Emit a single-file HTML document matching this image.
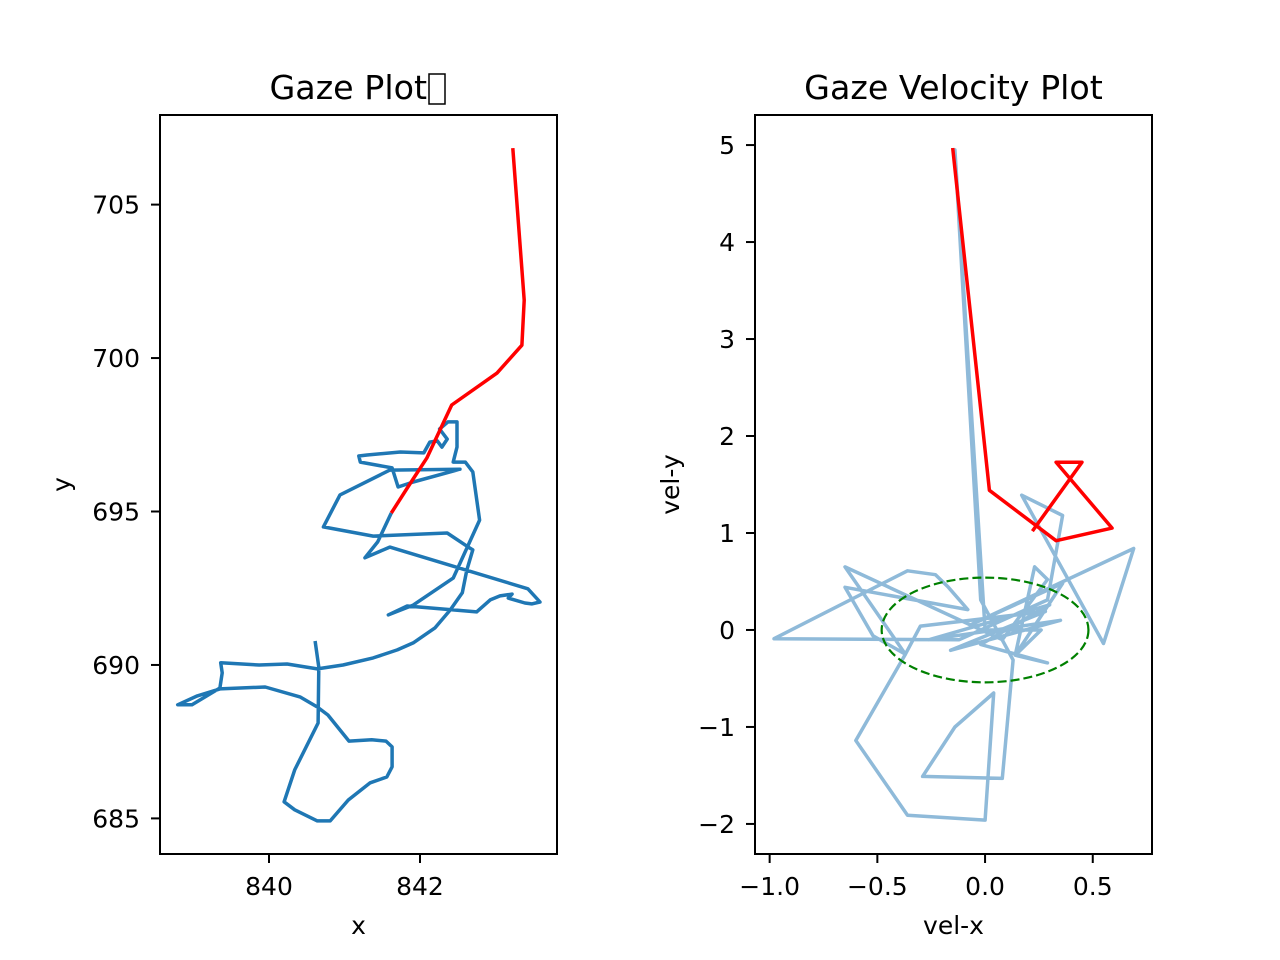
<!DOCTYPE html>
<html><head><meta charset="utf-8"><style>
body{margin:0;background:#fff;}
svg{display:block;font-family:"DejaVu Sans","Liberation Sans",sans-serif;}
</style></head><body>
<svg id="fig" width="1280" height="960" viewBox="0 0 1280 960"></svg>
<script>
// Left chart data (gaze position)
const gazeX = [840.61,840.66,840.65,840.34,840.20,840.34,840.64,840.81,841.05,841.34,841.56,841.63,841.63,841.55,841.36,841.06,840.78,840.64,840.41,839.95,839.35,839.05,838.79,838.98,839.35,839.38,839.36,839.87,840.24,840.64,840.98,841.38,841.70,841.91,842.20,842.40,842.56,842.62,842.70,842.64,842.36,841.38,840.72,840.94,841.60,842.53,841.91,841.71,841.63,841.21,841.19,841.30,841.74,842.05,842.13,842.23,842.29,842.36,842.26,842.37,842.49,842.49,842.44,842.60,842.70,842.79,842.44,841.91,841.58,841.83,842.75,842.93,843.06,843.22,843.17,843.39,843.48,843.59,843.43,841.60,841.27,841.44,841.62];
const gazeY = [690.78,689.93,688.11,686.58,685.54,685.28,684.92,684.92,685.60,686.16,686.35,686.68,687.33,687.52,687.56,687.52,688.37,688.63,688.96,689.28,689.22,688.99,688.70,688.70,689.25,689.74,690.07,690.00,690.03,689.87,690.00,690.23,690.49,690.72,691.21,691.79,692.35,693.09,693.75,693.84,694.30,694.20,694.50,695.54,696.35,696.38,695.96,695.80,696.42,696.61,696.81,696.84,696.94,696.91,697.26,697.30,697.10,697.36,697.69,697.92,697.92,697.10,696.61,696.61,696.29,694.72,692.83,691.95,691.63,691.92,691.73,692.12,692.25,692.31,692.18,692.02,691.99,692.05,692.48,693.84,693.49,694.01,694.95];
const fixX = [841.62,841.84,842.09,842.42,843.02,843.35,843.38,843.23];
const fixY = [694.95,695.80,696.74,698.47,699.51,700.42,701.89,706.84];
const leftXTicks = [840,842];
const leftYTicks = [685,690,695,700,705];
// Right chart data (velocity)
const velX = [0,-0.14,-0.02,0.13,0.08,-0.29,-0.14,0.04,0.00,-0.36,-0.60,-0.37,-0.65,0.08,0.29,0.23,0.14,0.36,-0.07,0.69,0.55,0.17,0.36,0.29,-0.12,-0.98,-0.36,-0.23,-0.17,-0.08,-0.65,-0.52,-0.37,-0.30,0.28,-0.16,0.35,-0.26,0.30,-0.02,0.29,0.14,0.26,0];
const velY = [0,4.95,0.31,-0.31,-1.53,-1.51,-1.00,-0.65,-1.96,-1.91,-1.14,-0.25,0.65,-0.10,0.52,0.65,-0.26,0.48,0.05,0.84,-0.14,1.39,1.18,0.31,-0.10,-0.09,0.61,0.57,0.44,0.21,0.44,-0.06,-0.25,0.04,0.19,-0.21,0.10,-0.10,0.26,-0.15,-0.34,-0.26,0.00,0];
const fixVX = [-0.15,0.02,0.33,0.59,0.33,0.45,0.22];
const fixVY = [4.97,1.44,0.92,1.05,1.73,1.73,1.02];
const ellipseCenter = [0.0, 0.0];
const ellipseRadii = [0.48, 0.54];
const rightXTicks = [-1.0,-0.5,0.0,0.5];
const rightYTicks = [-2,-1,0,1,2,3,4,5];

const NS='http://www.w3.org/2000/svg';
const svg=document.getElementById('fig');
function el(tag,attrs,parent){const e=document.createElementNS(NS,tag);for(const k in attrs)e.setAttribute(k,attrs[k]);(parent||svg).appendChild(e);return e;}
function scale(d0,d1,r0,r1){return v=>r0+(v-d0)/(d1-d0)*(r1-r0);}
function fmt(v,dec){const s=v.toFixed(dec);return v<0?'\u2212'+s.slice(1):s;}
const FS=25, TFS=33.3;

function axes(g,L,T,R,B,sx,sy,xt,yt,xdec,ydec,xlabel,ylabel,ylabelX,name){
  for(const t of xt){const x=sx(t);
    const tk=el('line',{x1:x,x2:x,y1:B,y2:B+9,stroke:'#000','stroke-width':2},g);
    
    const tx=el('text',{x:x,y:B+41,'font-size':FS,'text-anchor':'middle'},g);tx.textContent=fmt(t,xdec);
    }
  for(const t of yt){const y=sy(t);
    const tk=el('line',{x1:L-9,x2:L,y1:y,y2:y,stroke:'#000','stroke-width':2},g);
    
    const tx=el('text',{x:L-20,y:y+9,'font-size':FS,'text-anchor':'end'},g);tx.textContent=fmt(t,ydec);
    }
  const xl=el('text',{x:(L+R)/2,y:B+80,'font-size':FS,'text-anchor':'middle'},g);xl.textContent=xlabel;
  
  const yl=el('text',{x:0,y:0,'font-size':FS,'text-anchor':'middle',transform:`translate(${ylabelX},${(T+B)/2}) rotate(-90)`},g);yl.textContent=ylabel;
  
  return g;
}
function poly(g,xs,ys,sx,sy,color,w,name){
  const pts=xs.map((v,i)=>sx(v).toFixed(1)+','+sy(ys[i]).toFixed(1)).join(' ');
  const p=el('polyline',{points:pts,fill:'none',stroke:color,'stroke-width':w,'stroke-linejoin':'round','stroke-linecap':'butt'},g);
  
}

// Left
{const L=160,T=115,R=557,B=854;
 const g=el('g',{});
 const sx=scale(838.556,843.815,L,R), sy=scale(683.84,707.92,B,T);
 const cp=el('clipPath',{id:'c1'},g);el('rect',{x:L,y:T,width:R-L,height:B-T},cp);
 const pg=el('g',{'clip-path':'url(#c1)'},g);
 poly(pg,gazeX,gazeY,sx,sy,'#1f77b4',3.5,'gaze-path-line');
 poly(pg,fixX,fixY,sx,sy,'#ff0000',3.5,'fixation-path-line');
 const fr=el('rect',{x:L,y:T,width:R-L,height:B-T,fill:'none',stroke:'#000','stroke-width':2},g);
 
 axes(g,L,T,R,B,sx,sy,leftXTicks,leftYTicks,0,0,'x','y',70,'gaze-plot');
 const ti=el('text',{x:427,y:99,'font-size':TFS,'text-anchor':'end'},g);ti.textContent='Gaze Plot';
 
 const box=el('rect',{x:429,y:74,width:16,height:30,fill:'none',stroke:'#000','stroke-width':1.5},g);
 
}
// Right
{const L=755,T=115,R=1152,B=854;
 const g=el('g',{});
 const sx=scale(-1.068,0.775,L,R), sy=scale(-2.31,5.31,B,T);
 const cp=el('clipPath',{id:'c2'},g);el('rect',{x:L,y:T,width:R-L,height:B-T},cp);
 const pg=el('g',{'clip-path':'url(#c2)'},g);
 poly(pg,velX,velY,sx,sy,'#8fbad9',3.5,'velocity-path-line');
 poly(pg,fixVX,fixVY,sx,sy,'#ff0000',3.5,'fixation-velocity-line');
 const cx=sx(ellipseCenter[0]),cy=sy(ellipseCenter[1]);
 const e=el('ellipse',{cx:cx,cy:cy,rx:sx(ellipseRadii[0])-sx(0),ry:sy(0)-sy(ellipseRadii[1]),fill:'none',stroke:'#008000','stroke-width':2.2,'stroke-dasharray':'9,4'},pg);
 
 const fr=el('rect',{x:L,y:T,width:R-L,height:B-T,fill:'none',stroke:'#000','stroke-width':2},g);
 
 axes(g,L,T,R,B,sx,sy,rightXTicks,rightYTicks,1,0,'vel-x','vel-y',679,'velocity-plot');
 const ti=el('text',{x:(L+R)/2,y:99,'font-size':TFS,'text-anchor':'middle'},g);ti.textContent='Gaze Velocity Plot';
 
}
</script>
</body></html>
